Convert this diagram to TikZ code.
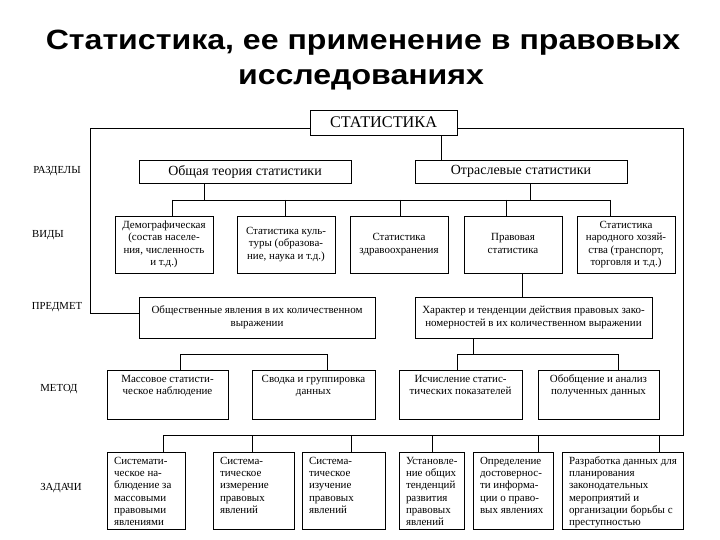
\documentclass[tikz,border=0pt]{standalone}
\usepackage{fontspec}
\setmainfont{Liberation Serif}
\newfontfamily\titlefont{Liberation Sans}
\newcommand\mkbox[8]{%
 \pgfmathsetmacro\bw{#4-#2}\pgfmathsetmacro\bh{#5-#3}%
 \pgfmathsetmacro\cx{(#2+#4)/2}\pgfmathsetmacro\cy{(#3+#5)/2}%
 \pgfmathsetmacro\iw{#4-#2-14}\pgfmathsetmacro\ih{#5-#3-7}%
 \node[bx, minimum width=\bw bp, minimum height=\bh bp] (#1) at (\cx,\cy)
 {\parbox[c][\ih bp][#6]{\iw bp}{\ifx c#7\centering\fi\begin{tabular}{@{}#7@{}}#8\end{tabular}}};}
\begin{document}
\begin{tikzpicture}[x=1bp,y=-1bp,
 bx/.style={draw, line width=0.9bp, inner sep=0pt, font=\fontsize{11}{12.4}\selectfont},
 ln/.style={line width=0.9bp},
 lab/.style={font=\fontsize{10.8}{12.4}\selectfont, inner sep=0pt},
 ttl/.style={font=\titlefont\bfseries\fontsize{28}{33}\selectfont, inner sep=0pt, anchor=base}]
\useasboundingbox[fill=white] (0,0) rectangle (720,540);
% title
\node[ttl] (t1) at (363,50) {\scalebox{1.15}[1]{Статистика, ее применение в правовых}};
\node[ttl] (t2) at (361,85) {\scalebox{1.15}[1]{исследованиях}};
% top
\node[bx, minimum width=147bp, minimum height=25bp, font=\fontsize{16.3}{18}\selectfont] (stat) at (383.5,122.5) {СТАТИСТИКА};
\node[bx, minimum width=212bp, minimum height=23bp, font=\fontsize{14}{15}\selectfont] (obt) at (245,171.5) {Общая теория статистики};
\node[bx, minimum width=212bp, minimum height=23bp, font=\fontsize{14}{15}\selectfont] (otr) at (521,171.5) {Отраслевые статистики};
% row labels
\node[lab] (lR) at (57,171) {РАЗДЕЛЫ};
\node[lab] (lV) at (48,235) {ВИДЫ};
\node[lab] (lP) at (57,307) {ПРЕДМЕТ};
\node[lab] (lM) at (59,389) {МЕТОД};
\node[lab] (lZ) at (61,488) {ЗАДАЧИ};
% ВИДЫ
\mkbox{dem}{115}{216}{213}{273}{c}{c}{Демографическая\\(состав населе-\\ния, численность\\и т.д.)}
\mkbox{kul}{237}{216}{335}{273}{c}{c}{Статистика куль-\\туры (образова-\\ние, наука и т.д.)}
\mkbox{zdr}{350}{216}{448}{273}{c}{c}{Статистика\\здравоохранения}
\mkbox{prv}{464}{216}{562}{273}{c}{c}{Правовая\\статистика}
\mkbox{nar}{577}{216}{675}{273}{c}{c}{Статистика\\народного хозяй-\\ства (транспорт,\\торговля и т.д.)}
% ПРЕДМЕТ
\mkbox{obs}{139}{297}{375}{338}{c}{c}{Общественные явления в их количественном\\выражении}
\mkbox{har}{415}{297}{652}{338}{c}{c}{Характер и тенденции действия правовых зако-\\номерностей в их количественном выражении}
% МЕТОД
\mkbox{mas}{107}{370}{228}{419}{t}{c}{Массовое статисти-\\ческое наблюдение}
\mkbox{svd}{252}{370}{375}{419}{t}{c}{Сводка и группировка\\данных}
\mkbox{isc}{399}{370}{522}{419}{t}{c}{Исчисление статис-\\тических показателей}
\mkbox{obb}{538}{370}{659}{419}{t}{c}{Обобщение и анализ\\полученных данных}
% ЗАДАЧИ
\mkbox{z1}{107}{452}{185}{529}{t}{l}{Системати-\\ческое на-\\блюдение за\\массовыми\\правовыми\\явлениями}
\mkbox{z2}{213}{452}{294}{529}{t}{l}{Система-\\тическое\\измерение\\правовых\\явлений}
\mkbox{z3}{302}{452}{385}{529}{t}{l}{Система-\\тическое\\изучение\\правовых\\явлений}
\mkbox{z4}{399}{452}{464}{529}{t}{l}{Установле-\\ние общих\\тенденций\\развития\\правовых\\явлений}
\mkbox{z5}{473}{452}{553}{529}{t}{l}{Определение\\достовернос-\\ти информа-\\ции о право-\\вых явлениях}
\mkbox{z6}{562}{452}{683}{529}{t}{l}{Разработка данных для\\планирования\\законодательных\\мероприятий и\\организации борьбы с\\преступностью}
% coordinates
\coordinate (fL1) at (90,128);
\coordinate (fL2) at (90,313);
\coordinate (fR1) at (683,128);
\coordinate (fR2) at (683,435);
\coordinate (s1) at (441,140);
\coordinate (cA) at (204,200);
\coordinate (cB) at (530,200);
\coordinate (bv1) at (172,200);
\coordinate (bv2) at (285,200);
\coordinate (bv3) at (400,200);
\coordinate (bv4) at (506,200);
\coordinate (bv5) at (610,200);
\coordinate (cC) at (522,285);
\coordinate (m1) at (180,354);
\coordinate (m2) at (327,354);
\coordinate (m3) at (457,354);
\coordinate (m4) at (618,354);
\coordinate (m5) at (473,354);
\coordinate (d1) at (163,435);
\coordinate (d2) at (252,435);
\coordinate (d3) at (351,435);
\coordinate (d4) at (432,435);
\coordinate (d5) at (538,435);
\coordinate (d6) at (659,435);
% frame
\draw[ln] (stat.west |- fL1) -- (fL1) -- (fL2) -- (obs.west |- fL2);
\draw[ln] (stat.east |- fR1) -- (fR1) -- (fR2) -- (d1);
% connectors
\draw[ln] (stat.south -| s1) -- (otr.north -| s1);
\draw[ln] (obt.south -| cA) -- (cA);
\draw[ln] (otr.south -| cB) -- (cB);
\draw[ln] (bv1) -- (bv5);
\draw[ln] (bv1) -- (bv1 |- dem.north);
\draw[ln] (bv2) -- (bv2 |- kul.north);
\draw[ln] (bv3) -- (bv3 |- zdr.north);
\draw[ln] (bv4) -- (bv4 |- prv.north);
\draw[ln] (bv5) -- (bv5 |- nar.north);
\draw[ln] (prv.south -| cC) -- (har.north -| cC);
\draw[ln] (m1 |- mas.north) -- (m1) -- (m2) -- (m2 |- svd.north);
\draw[ln] (m3 |- isc.north) -- (m3) -- (m4) -- (m4 |- obb.north);
\draw[ln] (har.south -| m5) -- (m5);
\draw[ln] (d1) -- (d1 |- z1.north);
\draw[ln] (d2) -- (d2 |- z2.north);
\draw[ln] (d3) -- (d3 |- z3.north);
\draw[ln] (d4) -- (d4 |- z4.north);
\draw[ln] (d5) -- (d5 |- z5.north);
\draw[ln] (d6) -- (d6 |- z6.north);
\end{tikzpicture}
\end{document}
